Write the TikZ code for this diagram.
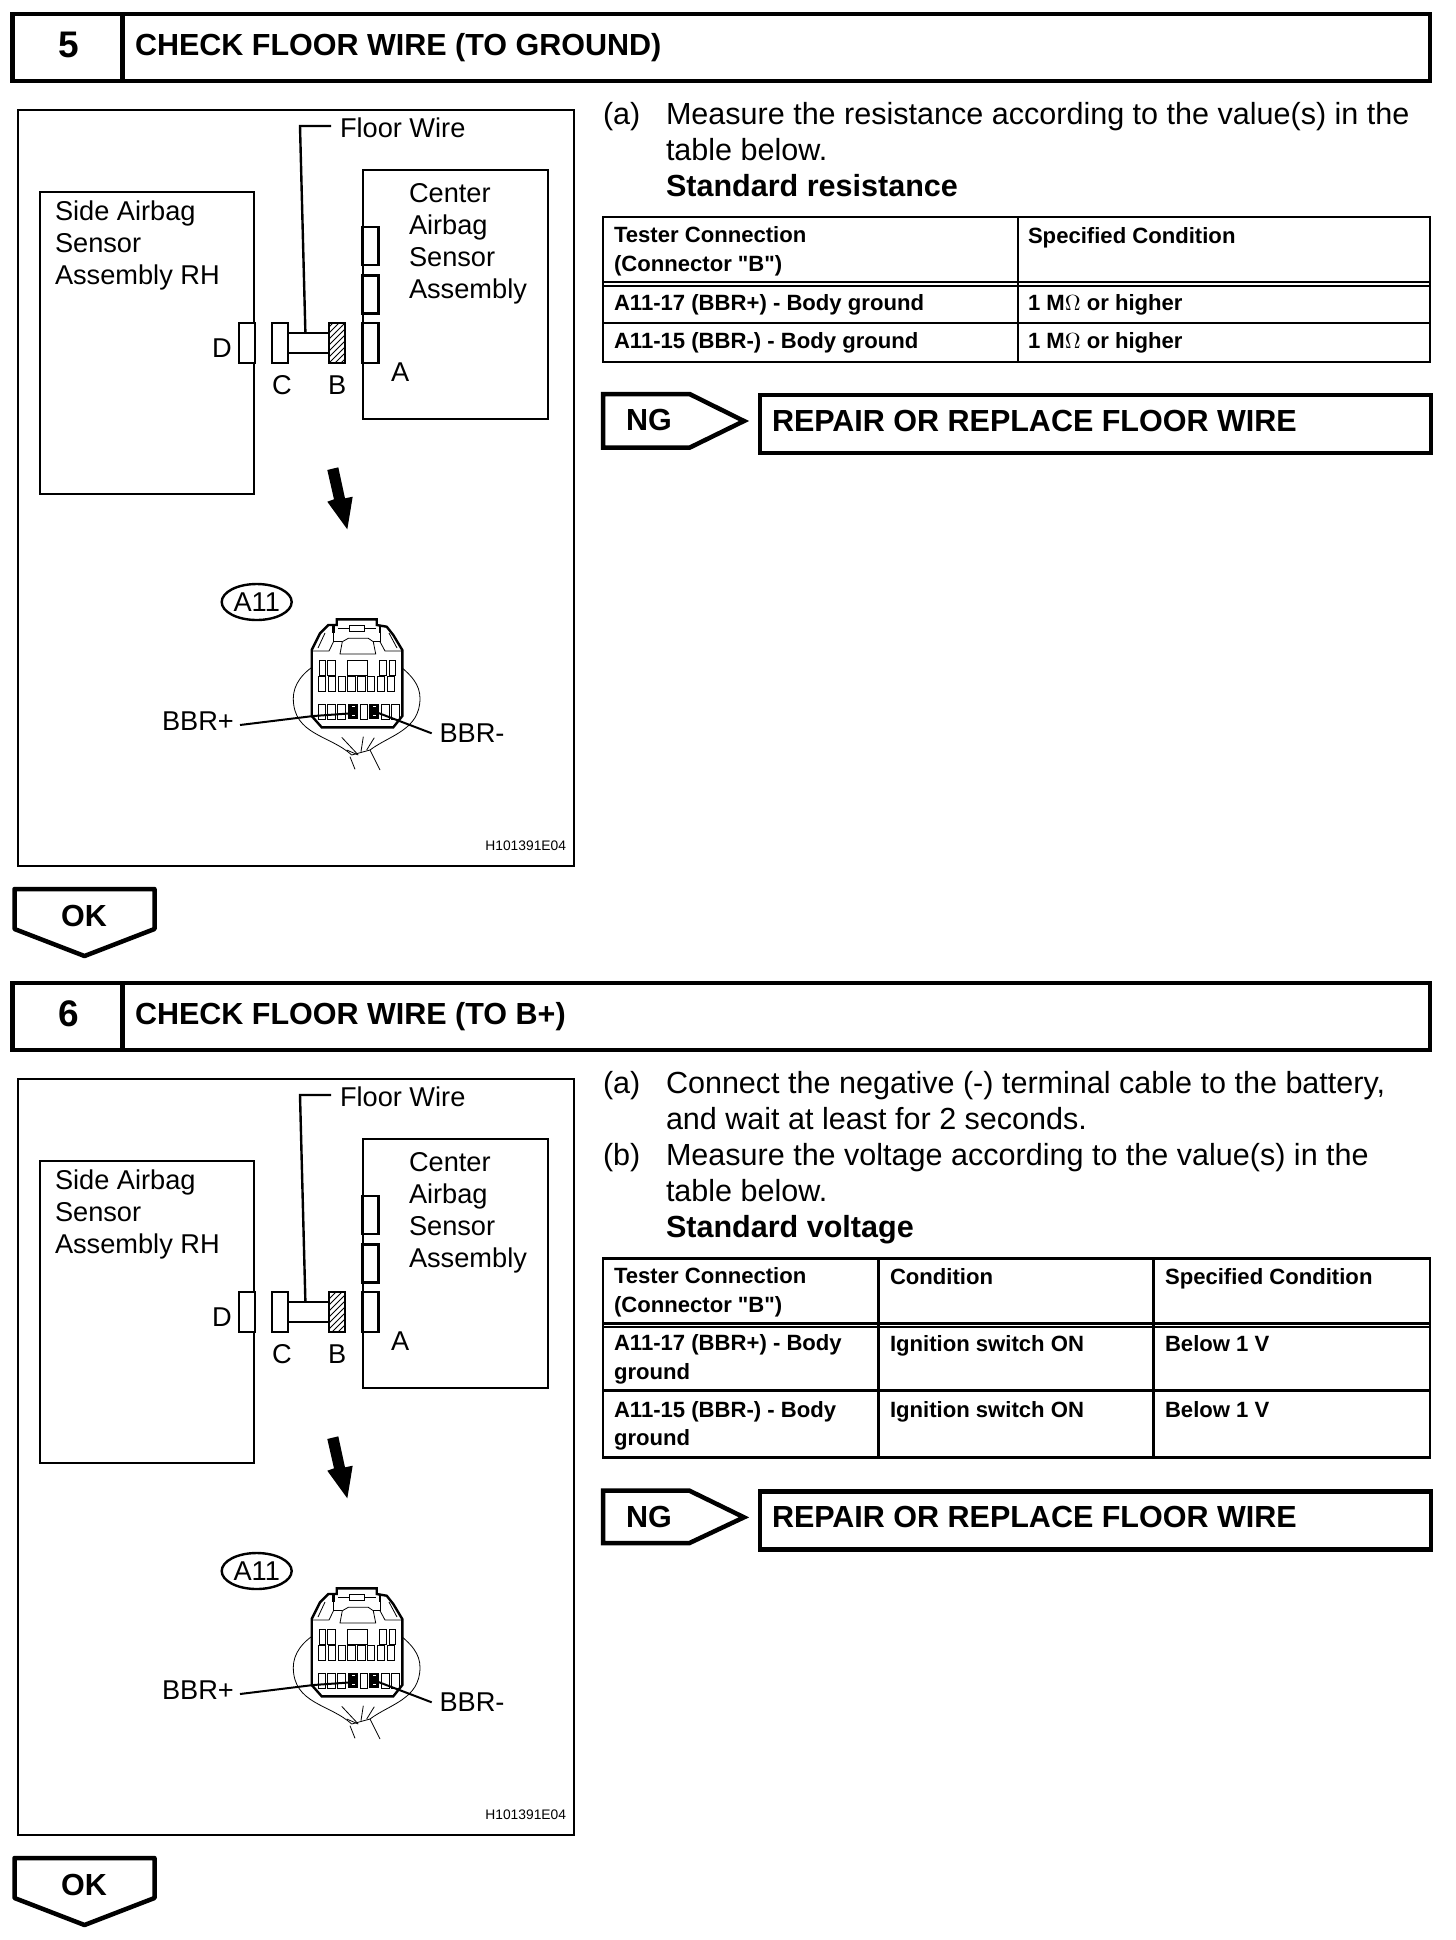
\documentclass[tikz,border=0pt]{standalone}
\usepackage{fontspec}
\setmainfont{Liberation Sans}
\newfontfamily\cellface{Liberation Sans}
\usetikzlibrary{shapes.geometric,patterns,arrows.meta}
\newcommand{\numfont}{\fontsize{18.5}{22}\bfseries\selectfont}
\newcommand{\hugefont}{\fontsize{15.25}{18}\bfseries\selectfont}
\newcommand{\stepfont}{\fontsize{15.27}{18}\selectfont}
\newcommand{\cellfont}{\cellface\fontsize{11.05}{14.2}\bfseries\selectfont}
\newcommand{\partfont}{\fontsize{13.6}{16}\selectfont}

\begin{document}
\begin{tikzpicture}[x=0.5pt,y=-0.5pt,
	txt/.style={inner sep=0pt,outer sep=0pt,anchor=base west,align=left},
	head/.style={txt,font=\hugefont},
	item/.style={txt,font=\stepfont},
	cell/.style={txt,font=\cellfont},
	part/.style={txt,font=\partfont},
	bigframe/.style={line width=2.25pt},
	frame/.style={line width=1.2pt},
	thin line/.style={line width=0.4pt},
	plug/.style={draw,line width=1.2pt,fill=white,inner sep=0pt,minimum width=#1,minimum height=20pt}
]
\useasboundingbox (0,0) rectangle (1456,1940);

% Parts common to the two steps
\foreach \S/\off/\num in {a/0/5,b/969/6}{
\begin{scope}[shift={(0,\off)}]
	% Title bar
	\draw[bigframe] (12.5,14) rectangle (1430,81);
	\draw[bigframe] (122.5,14) -- (122.5,81);
	\node[txt,font=\numfont,anchor=base] (num\S) at (68.5,57) {\num};

	% Frame of the sketch
	\draw[frame] (18,110) rectangle (574,866);

	% The two units
	\node[draw,frame,inner sep=0pt,minimum width=107pt,minimum height=151pt] (side\S) at (147.2,343) {};
	\node[draw,frame,inner sep=0pt,minimum width=92.5pt,minimum height=124.5pt] (center\S) at (455.5,294.5) {};
	\node[part] (sidetxt\S) at (55,284) {Side Airbag\\Sensor\\Assembly RH};
	\node[part] (centertxt\S) at (409,298) {Center\\Airbag\\Sensor\\Assembly};

	% Connectors
	\node[plug=8pt,minimum height=19pt] (conE\S) at (370.5,246) {};
	\node[plug=8pt,minimum height=19pt] (conF\S) at (370.5,294.5) {};
	\node[plug=8pt] (conA\S) at (370.5,343) {};
	\node[plug=8pt] (conD\S) at (246.7,343) {};
	\node[plug=8pt] (conC\S) at (280.2,343) {};
	\node[plug=8pt,pattern=north east lines] (conB\S) at (337,343) {};
	\draw[frame] (conC\S.east |- 0,333) -- (conB\S.west |- 0,333);
	\draw[frame] (conC\S.east |- 0,353) -- (conB\S.west |- 0,353);
	\node[part] (labA\S) at (391,381) {A};
	\node[part] (labB\S) at (328,394) {B};
	\node[part] (labC\S) at (272,394) {C};
	\node[part] (labD\S) at (212,357) {D};

	% Leader of the wire
	\node[part] (wire\S) at (340,137) {Floor Wire};
	\coordinate (lead\S) at (331,126);
	\coordinate (bend\S) at (300,126);
	\coordinate (drop\S) at (305.4,333);
	\draw[frame] (lead\S) -- (bend\S) -- (drop\S);

	% Heavy arrow
	\fill (327.3,470) -- (338.3,467.3) -- (345,498.3) -- (352.7,496.7) -- (347.3,529.3) -- (327.3,501.7) -- (334,499.3) -- cycle;

	% Connector A11
	\node[draw,frame,ellipse,inner sep=0pt,minimum width=35pt,minimum height=18pt] (tag\S) at (256.7,602) {};
	\node[part,anchor=center] (tagtxt\S) at (tag\S) {A11};
	\draw[thin line] (320,662.3) .. controls (302,672) and (293.3,685) .. (293.3,698.3) .. controls (293.3,735) and (330,735) .. (351.7,755);
	\draw[thin line] (395,662.3) .. controls (412,675) and (420,685) .. (420,698.3) .. controls (420,730) and (390,735) .. (370,750);
	\draw[thin line] (351.7,755) -- (370,750);
	\draw[thin line] (350,756.7) -- (355,769.3);
	\draw[thin line] (370,750) -- (380,770);
	\draw[thin line] (341.7,737.3) -- (356.7,753.3);
	\draw[thin line] (346.7,750) -- (358.3,755);
	\draw[thin line] (363.3,736.7) -- (361,751.7);
	\draw[thin line] (374.3,737.7) -- (366.7,750);
	\draw[line width=1.2pt,fill=white] (311.7,716) -- (321.7,727.3) -- (393.3,727.3) -- (402.3,716) -- (402.3,650) -- (393.3,635) -- (386.7,626.7) -- (376.7,625) -- (376.7,619.3) -- (336.7,619.3) -- (336.7,625) -- (328.3,625) -- (320,633.3) -- (311.7,650) -- cycle;
	\draw[thin line] (349,625.7) rectangle (364.3,631);
	\draw[thin line] (338,628.3) -- (349,628.3) (364.3,628.3) -- (375.7,628.3);
	\draw[thin line] (340,654) -- (342.3,641.7) -- (348.3,638.3) -- (368.3,638.3) -- (373.3,641.7) -- (375.7,654) -- cycle;
	\draw[thin line] (333.5,633) -- (333.5,641.7) -- (342.3,641.7);
	\draw[thin line] (380,633) -- (380,641.7) -- (373.3,641.7);
	\draw[thin line] (333.5,641.7) -- (329,651) -- (313,651);
	\draw[thin line] (380,641.7) -- (385,651) -- (401,651);
	\draw[thin line] (325,633) -- (318,648);
	\draw[thin line] (389,633) -- (397,648);
	\draw[line width=1.4pt] (333.5,625) -- (333.5,633) (380,625) -- (380,633);
	\foreach \xa/\xb in {319/325.7,327.7/335,347.3/367.7,379/386.7,389/395.7}
		\draw[thin line] (\xa,660) rectangle (\xb,675);
	\foreach \i in {0,...,7}
		\draw[thin line] ({318.3+\i*9.8},676.7) rectangle ({325.8+\i*9.8},691.7);
	\foreach \xa/\xb in {318.3/325.7,327.7/335,337.3/345,360/367.7,381.7/389,391/399}
		\draw[thin line] (\xa,704) rectangle (\xb,719);
	\foreach \xa/\xb in {348.3/357.7,369.3/379}{
		\fill (\xa,704) rectangle (\xb,719);
		\fill[white] ({\xa+3.2},705.6) rectangle ({\xa+6.6},706.8);
		\fill[white] ({\xa+3.2},714.8) rectangle ({\xa+6.6},716);
	}

	% Pin leaders
	\node[part] (plus\S) at (162,730) {BBR+};
	\node[part] (minus\S) at (439.5,742) {BBR-};
	\coordinate (plusend\S) at (240,725);
	\coordinate (pluspin\S) at (351.7,713.3);
	\coordinate (minusend\S) at (431.7,733.3);
	\coordinate (minuspin\S) at (375,711.7);
	\draw[line width=1pt] (plusend\S) -- (313.3,716) -- (pluspin\S);
	\draw[line width=1pt] (minuspin\S) -- (minusend\S);
	\node[txt,font=\fontsize{6.9}{8}\selectfont,anchor=base east] (code\S) at (566,850) {H101391E04};

	% OK flag
	\draw[bigframe,line join=round] (14.5,889) -- (154.5,889) -- (154.5,929) -- (84.5,956) -- (14.5,929) -- cycle;
	\node[head,anchor=base] (ok\S) at (84,926) {OK};
\end{scope}
}

% Titles
\node[head] (titlea) at (135,55) {CHECK FLOOR WIRE (TO GROUND)};
\node[head] (titleb) at (135,1024) {CHECK FLOOR WIRE (TO B+)};

% Step 5 text
\node[item] (stepa) at (603,124) {(a)};
\node[item] (texta) at (666,196) {Measure the resistance according to the value(s) in the\\table below.\\\textbf{Standard resistance}};

% Step 5 table
\draw[frame] (603,217) rectangle (1430,361.7);
\draw[frame] (1018,217) -- (1018,361.7);
\draw[frame] (603,281.7) -- (1430,281.7);
\draw[frame] (603,286) -- (1430,286);
\draw[frame] (603,322.7) -- (1430,322.7);
\node[cell] (ta1) at (614,271) {Tester Connection\\(Connector "B")};
\node[cell] (ta2) at (1028,243.5) {Specified Condition};
\node[cell] (ta3) at (614,310) {A11-17 (BBR+) - Body ground};
\node[cell] (ta4) at (1028,310) {1 M$\Omega$ or higher};
\node[cell] (ta5) at (614,348) {A11-15 (BBR-) - Body ground};
\node[cell] (ta6) at (1028,348) {1 M$\Omega$ or higher};

% Step 5 NG
\draw[bigframe] (603,394) -- (689.5,394) -- (744,421) -- (689.5,447.7) -- (603,447.7) -- cycle;
\node[head] (nga) at (626,430) {NG};
\node[draw,bigframe,inner sep=0pt,minimum width=335.5pt,minimum height=29pt] (repa) at (1095.5,424) {};
\node[head] (reptxta) at (772,431) {REPAIR OR REPLACE FLOOR WIRE};

% Step 6 text
\node[item] (stepb) at (603,1093) {(a)};
\node[item] (stepc) at (603,1165) {(b)};
\node[item] (textb) at (666,1237) {Connect the negative (-) terminal cable to the battery,\\and wait at least for 2 seconds.\\Measure the voltage according to the value(s) in the\\table below.\\\textbf{Standard voltage}};

% Step 6 table
\draw[frame] (603,1258.3) rectangle (1430,1457.3);
\foreach \xcol in {878.4,1153.5}
	\draw[frame] (\xcol,1258.3) -- (\xcol,1457.3);
\draw[frame] (603,1323.3) -- (1430,1323.3);
\draw[frame] (603,1327) -- (1430,1327);
\draw[line width=1.6pt] (603,1390.7) -- (1430,1390.7);
\node[cell] (tb1) at (614,1312) {Tester Connection\\(Connector "B")};
\node[cell] (tb2) at (890,1284) {Condition};
\node[cell] (tb3) at (1165,1284) {Specified Condition};
\node[cell] (tb4) at (614,1379) {A11-17 (BBR+) - Body\\ground};
\node[cell] (tb5) at (890,1351) {Ignition switch ON};
\node[cell] (tb6) at (1165,1351) {Below 1 V};
\node[cell] (tb7) at (614,1445.5) {A11-15 (BBR-) - Body\\ground};
\node[cell] (tb8) at (890,1417.5) {Ignition switch ON};
\node[cell] (tb9) at (1165,1417.5) {Below 1 V};

% Step 6 NG
\draw[bigframe] (603,1490.7) -- (689.5,1490.7) -- (744,1517.3) -- (689.5,1543) -- (603,1543) -- cycle;
\node[head] (ngb) at (626,1527) {NG};
\node[draw,bigframe,inner sep=0pt,minimum width=335.5pt,minimum height=29pt] (repb) at (1095.5,1520.5) {};
\node[head] (reptxtb) at (772,1527.5) {REPAIR OR REPLACE FLOOR WIRE};
\end{tikzpicture}
\end{document}
